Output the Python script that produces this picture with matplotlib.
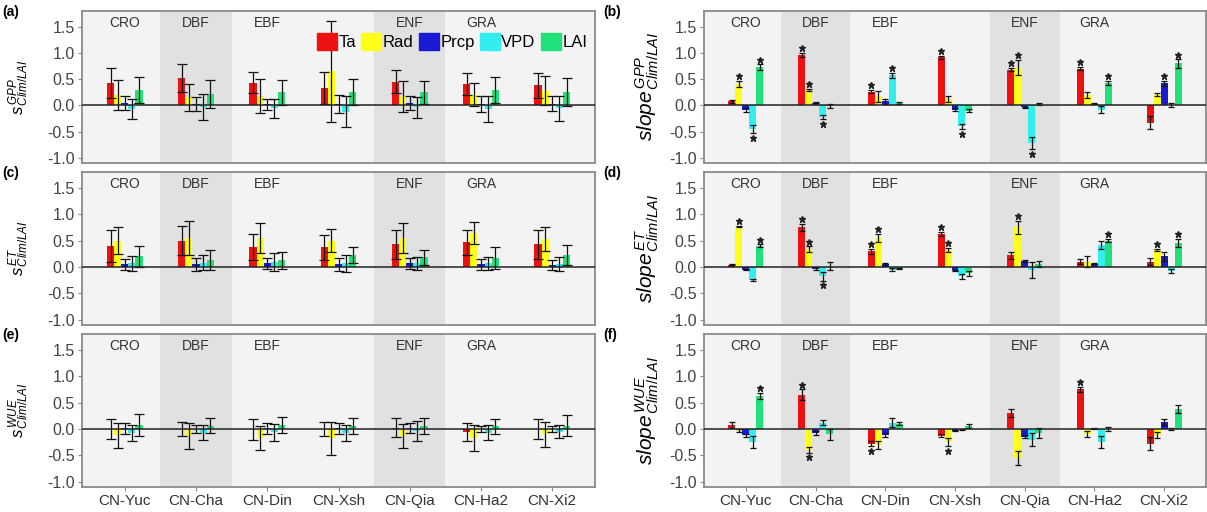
import numpy as np
import matplotlib
matplotlib.use("Agg")
import matplotlib.pyplot as plt
from matplotlib.patches import Patch

plt.rcParams["font.family"] = ["Liberation Sans", "DejaVu Sans"]
plt.rcParams["mathtext.fontset"] = "custom"
plt.rcParams["mathtext.it"] = "Liberation Sans:italic"
plt.rcParams["mathtext.rm"] = "Liberation Sans"

sites = ["CN-Yuc", "CN-Cha", "CN-Din", "CN-Xsh", "CN-Qia", "CN-Ha2", "CN-Xi2"]
biomes = ["CRO", "DBF", "EBF", "", "ENF", "GRA", ""]
dark_cols = [2, 5]
variables = ["Ta", "Rad", "Prcp", "VPD", "LAI"]
var_colors = ["#ee1111", "#ffff1a", "#1a1ad6", "#33eeee", "#22e07a"]

# rows: Ta, Rad, Prcp, VPD, LAI ; columns: sites
gpp_s_mean = [[0.43, 0.52, 0.43, 0.33, 0.45, 0.40, 0.38],
              [0.20, 0.15, 0.18, 0.65, 0.17, 0.20, 0.28],
              [0.04, 0.03, 0.02, 0.02, 0.05, 0.02, 0.03],
              [-0.07, -0.03, -0.06, -0.12, -0.04, -0.07, -0.06],
              [0.30, 0.22, 0.25, 0.25, 0.25, 0.30, 0.25]]
gpp_s_err = [[0.29, 0.27, 0.20, 0.31, 0.22, 0.21, 0.24],
             [0.29, 0.25, 0.32, 0.96, 0.30, 0.22, 0.28],
             [0.13, 0.13, 0.11, 0.17, 0.13, 0.15, 0.14],
             [0.20, 0.25, 0.18, 0.30, 0.20, 0.24, 0.23],
             [0.25, 0.27, 0.24, 0.25, 0.22, 0.25, 0.27]]

et_s_mean = [[0.40, 0.50, 0.38, 0.37, 0.43, 0.47, 0.43],
             [0.50, 0.55, 0.55, 0.50, 0.55, 0.65, 0.53],
             [0.05, 0.05, 0.07, 0.05, 0.07, 0.05, 0.04],
             [0.07, 0.08, 0.10, 0.07, 0.07, 0.07, 0.05],
             [0.20, 0.13, 0.13, 0.22, 0.18, 0.17, 0.22]]
et_s_err = [[0.30, 0.28, 0.24, 0.23, 0.27, 0.24, 0.27],
            [0.25, 0.33, 0.28, 0.22, 0.29, 0.21, 0.22],
            [0.10, 0.12, 0.10, 0.12, 0.10, 0.11, 0.10],
            [0.14, 0.14, 0.17, 0.16, 0.12, 0.12, 0.13],
            [0.20, 0.19, 0.16, 0.15, 0.15, 0.21, 0.19]]

wue_s_mean = [[0.00, 0.00, -0.01, 0.00, 0.02, -0.05, 0.00],
              [-0.12, -0.13, -0.17, -0.18, -0.13, -0.17, -0.10],
              [0.01, 0.00, 0.01, 0.01, 0.02, 0.00, 0.00],
              [-0.07, -0.07, -0.06, -0.07, -0.03, -0.07, -0.05],
              [0.08, 0.06, 0.07, 0.05, 0.06, 0.05, 0.06]]
wue_s_err = [[0.19, 0.13, 0.20, 0.13, 0.18, 0.17, 0.19],
             [0.24, 0.25, 0.22, 0.31, 0.23, 0.24, 0.24],
             [0.11, 0.08, 0.10, 0.10, 0.10, 0.06, 0.06],
             [0.15, 0.14, 0.16, 0.15, 0.19, 0.14, 0.12],
             [0.21, 0.14, 0.15, 0.15, 0.15, 0.14, 0.20]]

gpp_slope_mean = [[0.08, 0.96, 0.26, 0.92, 0.68, 0.70, -0.33],
                  [0.41, 0.30, 0.17, 0.12, 0.72, 0.20, 0.20],
                  [-0.09, 0.05, 0.08, -0.08, -0.04, 0.03, 0.42],
                  [-0.45, -0.22, 0.57, -0.40, -0.72, -0.08, 0.00],
                  [0.73, -0.02, 0.05, -0.10, 0.02, 0.43, 0.80]]
gpp_slope_err = [[0.03, 0.04, 0.03, 0.03, 0.03, 0.03, 0.12],
                 [0.06, 0.02, 0.10, 0.05, 0.15, 0.06, 0.03],
                 [0.04, 0.01, 0.05, 0.03, 0.01, 0.01, 0.05],
                 [0.08, 0.04, 0.05, 0.05, 0.12, 0.06, 0.04],
                 [0.05, 0.04, 0.02, 0.03, 0.02, 0.04, 0.08]]
gpp_slope_sig = [[0, 1, 1, 1, 1, 1, 0],
                 [1, 1, 0, 0, 1, 0, 0],
                 [0, 0, 0, 0, 0, 0, 1],
                 [1, 1, 1, 1, 1, 0, 0],
                 [1, 0, 0, 0, 0, 1, 1]]

et_slope_mean = [[0.04, 0.75, 0.30, 0.62, 0.22, 0.10, 0.10],
                 [0.77, 0.34, 0.55, 0.32, 0.75, 0.10, 0.32],
                 [-0.05, -0.03, 0.06, -0.06, 0.12, 0.06, 0.20],
                 [-0.25, -0.18, -0.05, -0.18, -0.05, 0.42, -0.08],
                 [0.40, 0.02, -0.03, -0.12, 0.05, 0.50, 0.45]]
et_slope_err = [[0.01, 0.07, 0.05, 0.04, 0.07, 0.05, 0.07],
                [0.01, 0.05, 0.08, 0.04, 0.12, 0.10, 0.02],
                [0.01, 0.03, 0.02, 0.01, 0.02, 0.01, 0.08],
                [0.02, 0.08, 0.03, 0.05, 0.15, 0.08, 0.04],
                [0.03, 0.07, 0.01, 0.05, 0.06, 0.03, 0.08]]
et_slope_sig = [[0, 1, 1, 1, 0, 0, 0],
                [1, 1, 1, 1, 1, 0, 1],
                [0, 0, 0, 0, 0, 0, 0],
                [0, 1, 0, 0, 0, 0, 0],
                [1, 0, 0, 0, 0, 1, 1]]

wue_slope_mean = [[0.07, 0.65, -0.28, -0.13, 0.30, 0.75, -0.28],
                  [-0.03, -0.40, -0.30, -0.25, -0.55, -0.10, -0.12],
                  [-0.12, -0.08, -0.12, -0.03, -0.15, 0.01, 0.13],
                  [-0.25, 0.12, 0.12, -0.01, -0.20, -0.25, 0.00],
                  [0.62, -0.10, 0.10, 0.05, -0.08, 0.00, 0.38]]
wue_slope_err = [[0.06, 0.10, 0.05, 0.03, 0.07, 0.05, 0.12],
                 [0.03, 0.05, 0.08, 0.07, 0.13, 0.06, 0.06],
                 [0.03, 0.04, 0.04, 0.01, 0.03, 0.01, 0.06],
                 [0.12, 0.05, 0.08, 0.01, 0.13, 0.12, 0.02],
                 [0.06, 0.10, 0.03, 0.04, 0.10, 0.04, 0.07]]
wue_slope_sig = [[0, 1, 1, 0, 0, 1, 0],
                 [0, 1, 0, 1, 0, 0, 0],
                 [0, 0, 0, 0, 0, 0, 0],
                 [0, 0, 0, 0, 0, 0, 0],
                 [1, 0, 0, 0, 0, 0, 0]]

W, H = 1207, 512
fig = plt.figure(figsize=(W / 100, H / 100), dpi=100)


def rect(x0, top, x1, bottom):
    return [x0 / W, 1 - bottom / H, (x1 - x0) / W, (bottom - top) / H]


rows = [(11, 163), (172, 325), (334, 487)]
cols = [(82, 595), (704, 1206)]

panels = [
    ("(a)", 0, 0, gpp_s_mean, gpp_s_err, None, "GPP", False),
    ("(b)", 0, 1, gpp_slope_mean, gpp_slope_err, gpp_slope_sig, "GPP", True),
    ("(c)", 1, 0, et_s_mean, et_s_err, None, "ET", False),
    ("(d)", 1, 1, et_slope_mean, et_slope_err, et_slope_sig, "ET", True),
    ("(e)", 2, 0, wue_s_mean, wue_s_err, None, "WUE", False),
    ("(f)", 2, 1, wue_slope_mean, wue_slope_err, wue_slope_sig, "WUE", True),
]

x = np.arange(1, len(sites) + 1)
for tag, r, c, means, errs, sig, resp, is_slope in panels:
    top, bottom = rows[r]
    x0, x1 = cols[c]
    ax = fig.add_axes(rect(x0, top, x1, bottom))
    ax.set_facecolor("#f3f3f3")
    for d in dark_cols:
        ax.axvspan(d - 0.5, d + 0.5, color="#e1e1e1", zorder=0, lw=0)
    for i, b in enumerate(biomes):
        if b:
            ax.text(x[i], 1.58, b, ha="center", va="center", fontsize=10,
                    color="#333333", zorder=1)

    cap = 2.5 if is_slope else 3.5
    for k, var in enumerate(variables):
        xs = x + (k - 2) * 0.1
        m = np.array(means[k])
        e = np.array(errs[k])
        ax.bar(xs, m, width=0.1, color=var_colors[k], zorder=2, label=var)
        ax.errorbar(xs, m, yerr=e, fmt="none", ecolor="#111111",
                    elinewidth=0.9, capsize=cap, capthick=0.9, zorder=3)
        if sig is not None:
            s = np.array(sig[k]).astype(bool)
            ys = m + np.sign(m) * (e + 0.09)
            ax.plot(xs[s], ys[s], ls="", marker="*", ms=5, color="#222222",
                    zorder=4)

    ax.axhline(0, color="#222222", lw=1.1, zorder=3.5)
    ax.set_xlim(0.4, 7.6)
    ax.set_ylim(-1.1, 1.8)
    ax.set_yticks([-1.0, -0.5, 0.0, 0.5, 1.0, 1.5])
    ax.set_yticklabels(["-1.0", "-0.5", "0.0", "0.5", "1.0", "1.5"])
    ax.set_xticks(x)
    if r == 2:
        ax.set_xticklabels(sites)
        ax.tick_params(axis="x", length=3, color="#888888", labelsize=11,
                       labelcolor="#333333", pad=2)
    else:
        ax.set_xticklabels([])
        ax.tick_params(axis="x", length=0)
    ax.tick_params(axis="y", length=3, color="#888888", labelsize=11.5,
                   labelcolor="#444444", pad=2)
    for sp in ax.spines.values():
        sp.set_color("#8a8a8a")
        sp.set_linewidth(1.3)

    if is_slope:
        ax.set_ylabel(r"$slope^{\,%s}_{\,Clim/LAI}$" % resp, fontsize=15)
        ax.yaxis.set_label_coords(-0.085, 0.5)
    else:
        ax.set_ylabel(r"$s^{\,%s}_{\,Clim/LAI}$" % resp, fontsize=12)
        ax.yaxis.set_label_coords(-0.1, 0.5)

    fig.text((2 if c == 0 else 603) / W, 1 - (top + 1) / H, tag,
             fontsize=10, fontweight="bold", ha="left", va="center")

    if tag == "(a)":
        handles = [Patch(color=col, label=v) for v, col in zip(variables, var_colors)]
        ax.legend(handles=handles, ncol=5, loc="upper right",
                  bbox_to_anchor=(0.985, 0.855), frameon=False, fontsize=12,
                  handlelength=1.2, handleheight=1.2, handletextpad=0.1,
                  columnspacing=0.3, borderpad=0, borderaxespad=0)

fig.savefig("out.png", dpi=100, facecolor="white")
